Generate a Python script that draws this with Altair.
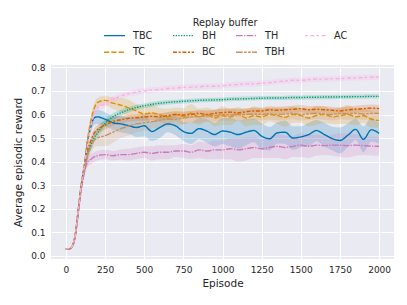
import altair as alt
import pandas as pd

EP = [0, 20, 40, 60, 80, 100, 120, 140, 160, 180, 200,
      250, 300, 350, 400, 450, 500, 550, 600, 650, 700, 750, 800, 850, 900, 950, 1000,
      1050, 1100, 1150, 1200, 1250, 1300, 1350, 1400, 1450, 1500, 1550, 1600, 1650, 1700,
      1750, 1800, 1850, 1900, 1950, 2000]

SERIES = ["TBC", "TC", "BH", "BC", "TH", "TBH", "AC"]

MEAN = {
    "TBC": [0.03, 0.03, 0.04, 0.09, 0.20, 0.31, 0.39, 0.49, 0.55, 0.585, 0.59,
            0.58, 0.565, 0.56, 0.553, 0.545, 0.552, 0.528, 0.545, 0.56, 0.552, 0.528, 0.52,
            0.54, 0.53, 0.515, 0.53, 0.525, 0.515, 0.525, 0.532, 0.508, 0.497, 0.522, 0.525,
            0.5, 0.505, 0.515, 0.532, 0.515, 0.498, 0.49, 0.512, 0.537, 0.495, 0.535, 0.52],
    "TC": [0.03, 0.03, 0.04, 0.09, 0.20, 0.31, 0.395, 0.50, 0.575, 0.625, 0.65,
           0.66, 0.648, 0.64, 0.628, 0.615, 0.602, 0.607, 0.598, 0.59, 0.6, 0.593, 0.605,
           0.59, 0.6, 0.585, 0.595, 0.59, 0.602, 0.585, 0.595, 0.59, 0.6, 0.595, 0.588, 0.6,
           0.595, 0.585, 0.596, 0.6, 0.59, 0.595, 0.6, 0.59, 0.595, 0.58, 0.575],
    "BH": [0.03, 0.03, 0.04, 0.085, 0.19, 0.30, 0.37, 0.43, 0.47, 0.50, 0.52,
           0.562, 0.59, 0.607, 0.62, 0.63, 0.637, 0.643, 0.648, 0.651, 0.654, 0.656, 0.658,
           0.66, 0.661, 0.662, 0.663, 0.665, 0.666, 0.667, 0.668, 0.669, 0.67, 0.67, 0.671,
           0.672, 0.672, 0.673, 0.673, 0.674, 0.674, 0.675, 0.675, 0.676, 0.676, 0.677, 0.677],
    "BC": [0.03, 0.03, 0.04, 0.09, 0.20, 0.30, 0.38, 0.45, 0.49, 0.52, 0.535,
           0.555, 0.57, 0.578, 0.584, 0.586, 0.59, 0.592, 0.59, 0.595, 0.6, 0.598, 0.6,
           0.605, 0.6, 0.605, 0.608, 0.61, 0.607, 0.612, 0.615, 0.615, 0.62, 0.618, 0.62,
           0.622, 0.625, 0.62, 0.622, 0.62, 0.618, 0.615, 0.62, 0.622, 0.625, 0.627, 0.625],
    "TH": [0.03, 0.03, 0.04, 0.085, 0.19, 0.29, 0.36, 0.40, 0.41, 0.42, 0.425,
           0.43, 0.425, 0.43, 0.43, 0.435, 0.44, 0.435, 0.44, 0.44, 0.445, 0.445, 0.44,
           0.45, 0.445, 0.45, 0.45, 0.455, 0.45, 0.455, 0.46, 0.455, 0.46, 0.465, 0.46,
           0.465, 0.47, 0.465, 0.47, 0.468, 0.47, 0.47, 0.468, 0.47, 0.468, 0.466, 0.465],
    "TBH": [0.03, 0.03, 0.04, 0.085, 0.19, 0.30, 0.37, 0.43, 0.46, 0.49, 0.50,
            0.51, 0.525, 0.54, 0.55, 0.56, 0.565, 0.57, 0.575, 0.58, 0.58, 0.585, 0.59,
            0.59, 0.595, 0.595, 0.6, 0.598, 0.6, 0.6, 0.602, 0.6, 0.603, 0.6, 0.602, 0.605,
            0.6, 0.603, 0.605, 0.602, 0.6, 0.605, 0.603, 0.605, 0.602, 0.605, 0.605],
    "AC": [0.03, 0.03, 0.04, 0.09, 0.20, 0.31, 0.39, 0.48, 0.55, 0.60, 0.625,
           0.645, 0.665, 0.678, 0.688, 0.695, 0.70, 0.704, 0.706, 0.71, 0.712, 0.715, 0.716,
           0.718, 0.72, 0.72, 0.722, 0.725, 0.728, 0.73, 0.73, 0.733, 0.735, 0.74, 0.742,
           0.745, 0.745, 0.748, 0.75, 0.75, 0.752, 0.752, 0.755, 0.755, 0.757, 0.758, 0.758],
}

SPREAD = {
    "TBC": [0.003, 0.003, 0.004, 0.008, 0.01, 0.012, 0.015, 0.02, 0.025, 0.03, 0.03,
            0.03, 0.03, 0.035, 0.035, 0.04, 0.045, 0.04, 0.045, 0.035, 0.04, 0.04, 0.045,
            0.045, 0.05, 0.05, 0.055, 0.06, 0.06, 0.055, 0.05, 0.055, 0.05, 0.045, 0.05,
            0.05, 0.045, 0.05, 0.045, 0.05, 0.05, 0.055, 0.05, 0.045, 0.055, 0.05, 0.045],
    "TC": [0.003, 0.003, 0.004, 0.008, 0.01, 0.012, 0.015, 0.02, 0.02, 0.02, 0.02,
           0.02, 0.025, 0.03, 0.035, 0.03, 0.03, 0.035, 0.03, 0.035, 0.03, 0.035, 0.04,
           0.035, 0.03, 0.035, 0.04, 0.035, 0.03, 0.035, 0.04, 0.035, 0.03, 0.035, 0.04,
           0.035, 0.03, 0.035, 0.04, 0.035, 0.03, 0.035, 0.04, 0.035, 0.03, 0.035, 0.03],
    "BH": [0.003, 0.003, 0.004, 0.008, 0.01, 0.012, 0.015, 0.02, 0.02, 0.02, 0.02,
           0.018, 0.015, 0.013, 0.012, 0.011, 0.01, 0.01, 0.01, 0.009, 0.009, 0.009, 0.009,
           0.009, 0.009, 0.009, 0.009, 0.009, 0.009, 0.009, 0.009, 0.009, 0.009, 0.009,
           0.009, 0.009, 0.009, 0.009, 0.009, 0.009, 0.009, 0.009, 0.009, 0.009, 0.009,
           0.009, 0.009],
    "BC": [0.003, 0.003, 0.004, 0.008, 0.01, 0.012, 0.015, 0.02, 0.02, 0.02, 0.02,
           0.02, 0.018, 0.016, 0.015, 0.015, 0.015, 0.015, 0.015, 0.015, 0.015, 0.015,
           0.015, 0.015, 0.015, 0.015, 0.015, 0.015, 0.015, 0.015, 0.015, 0.015, 0.015,
           0.015, 0.015, 0.015, 0.015, 0.015, 0.015, 0.015, 0.015, 0.015, 0.015, 0.015,
           0.015, 0.015, 0.015],
    "TH": [0.003, 0.003, 0.004, 0.008, 0.01, 0.012, 0.015, 0.02, 0.02, 0.02, 0.02,
           0.02, 0.02, 0.022, 0.025, 0.025, 0.025, 0.03, 0.03, 0.03, 0.025, 0.03, 0.03,
           0.035, 0.035, 0.04, 0.04, 0.045, 0.05, 0.05, 0.045, 0.04, 0.045, 0.05, 0.05,
           0.045, 0.05, 0.05, 0.045, 0.04, 0.045, 0.05, 0.05, 0.045, 0.04, 0.04, 0.04],
    "TBH": [0.003, 0.003, 0.004, 0.008, 0.01, 0.015, 0.02, 0.025, 0.03, 0.03, 0.035,
            0.045, 0.045, 0.04, 0.04, 0.035, 0.035, 0.03, 0.03, 0.03, 0.03, 0.025, 0.025,
            0.025, 0.025, 0.025, 0.025, 0.025, 0.025, 0.025, 0.025, 0.025, 0.025, 0.025,
            0.025, 0.025, 0.025, 0.025, 0.025, 0.025, 0.025, 0.025, 0.025, 0.025, 0.025,
            0.025, 0.025],
    "AC": [0.003, 0.003, 0.004, 0.008, 0.01, 0.012, 0.015, 0.015, 0.015, 0.015, 0.015,
           0.015, 0.014, 0.013, 0.012, 0.012, 0.012, 0.012, 0.012, 0.012, 0.012, 0.012,
           0.012, 0.012, 0.012, 0.012, 0.012, 0.012, 0.012, 0.012, 0.012, 0.012, 0.012,
           0.012, 0.012, 0.012, 0.012, 0.012, 0.012, 0.012, 0.012, 0.012, 0.012, 0.012,
           0.012, 0.012, 0.012],
}

COLORS = {"TBC": "#0173b2", "TC": "#de8f05", "BH": "#029e73", "BC": "#d55e00",
          "TH": "#cc78bc", "TBH": "#ca9161", "AC": "#fbafe4"}
DASHES = {"TBC": [1, 0], "TC": [5.3, 2], "BH": [1.33, 1.33], "BC": [4, 1.67, 2, 1.67],
          "TH": [6.7, 1.33, 1.33, 1.33], "TBH": [6.7, 1.33, 2.67, 1.33, 2.67, 1.33],
          "AC": [2.67, 2.67, 4, 2]}

# legend fill order (row-major for 4 columns, mimicking matplotlib's column-major layout)
LEGEND_ORDER = ["TBC", "BH", "TH", "AC", "TC", "BC", "TBH"]

rows = []
for s in SERIES:
    for e, m, d in zip(EP, MEAN[s], SPREAD[s]):
        rows.append({"ep": e, "buffer": s, "mean": m, "lo": m - d, "hi": m + d,
                     "col": COLORS[s]})
df = pd.DataFrame(rows)

x_scale = alt.Scale(domain=[-95, 2095], nice=False, zero=False)
y_scale = alt.Scale(domain=[-0.013, 0.81], nice=False, zero=False)
color_scale = alt.Scale(domain=LEGEND_ORDER, range=[COLORS[s] for s in LEGEND_ORDER])
dash_scale = alt.Scale(domain=LEGEND_ORDER, range=[DASHES[s] for s in LEGEND_ORDER])

legend = alt.Legend(
    title="Replay buffer", orient="none", legendX=52, legendY=-47, columns=4,
    direction="horizontal", titleAnchor="middle", titleFontSize=9.7,
    titleFontWeight="normal", titleColor="#262626", titlePadding=-4,
    labelFontSize=9.7, labelColor="#262626", symbolSize=441, symbolStrokeWidth=1.4,
    labelOffset=7, columnPadding=17, rowPadding=-8, symbolType="stroke",
    labelFont="DejaVu Sans", titleFont="DejaVu Sans",
)

x_axis = alt.Axis(title="Episode", values=list(range(0, 2001, 250)), format="d",
                  labelOverlap=False)
y_axis = alt.Axis(title="Average episodic reward",
                  values=[0, 0.1, 0.2, 0.3, 0.4, 0.5, 0.6, 0.7, 0.8],
                  format=".1f", labelOverlap=False)

base = alt.Chart(df)

band = base.mark_area(opacity=0.2, interpolate="monotone").encode(
    x=alt.X("ep:Q", scale=x_scale, axis=x_axis),
    y=alt.Y("lo:Q", scale=y_scale, axis=y_axis),
    y2="hi:Q",
    fill=alt.Fill("col:N", scale=None),
    detail="buffer:N",
)

lines = base.mark_line(strokeWidth=1.4, interpolate="monotone").encode(
    x=alt.X("ep:Q", scale=x_scale, axis=x_axis),
    y=alt.Y("mean:Q", scale=y_scale, axis=y_axis),
    color=alt.Color("buffer:N", scale=color_scale, legend=legend),
    strokeDash=alt.StrokeDash("buffer:N", scale=dash_scale, legend=legend),
)

chart = alt.layer(band, lines).properties(
    width=343, height=194,
    autosize=alt.AutoSizeParams(type="none"),
    padding={"left": 43, "top": 57, "right": 5, "bottom": 30},
    background="white",
).configure_view(
    fill="#EAEAF2", stroke=None,
).configure_axis(
    grid=True, gridColor="white", gridWidth=1, domain=False, ticks=False,
    labelFont="DejaVu Sans", titleFont="DejaVu Sans", labelFontSize=9,
    titleFontSize=10.5, titleFontWeight="normal", labelColor="#262626",
    titleColor="#262626", labelPadding=6,
).configure_axisY(
    titlePadding=7,
).configure_axisX(
    titlePadding=4,
)

chart.save("out.html", embed_options={"renderer": "svg", "actions": False})
